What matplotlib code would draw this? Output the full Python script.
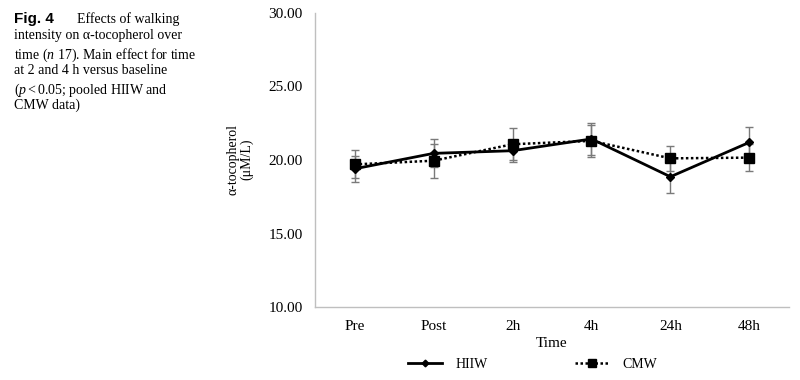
import numpy as np
import matplotlib
matplotlib.use("Agg")
import matplotlib.pyplot as plt

plt.rcParams['font.family'] = ['Liberation Serif', 'DejaVu Serif']
plt.rcParams['mathtext.fontset'] = 'custom'
plt.rcParams['mathtext.rm'] = 'Liberation Serif'
plt.rcParams['mathtext.it'] = 'Liberation Serif:italic'

# data
times = ["Pre", "Post", "2h", "4h", "24h", "48h"]
hiiw = [19.40, 20.45, 20.63, 21.43, 18.86, 21.20]
hiiw_err = [0.90, 0.95, 0.75, 1.10, 1.10, 1.07]
cmw = [19.70, 19.95, 21.07, 21.30, 20.11, 20.16]
cmw_err = [0.95, 1.15, 1.10, 1.10, 0.86, 0.91]
yticks = [10, 15, 20, 25, 30]

fig = plt.figure(figsize=(8, 3.8), dpi=100)
ax = fig.add_axes([0.394, 0.192, 0.592, 0.774])

x = np.arange(len(times))
ax.errorbar(x, hiiw, yerr=hiiw_err, fmt='none', ecolor='#7a7a7a',
            elinewidth=1, capsize=3, capthick=1, zorder=2)
ax.errorbar(x, cmw, yerr=cmw_err, fmt='none', ecolor='#7a7a7a',
            elinewidth=1, capsize=3, capthick=1, zorder=2)
l1, = ax.plot(x, hiiw, color='black', lw=2, marker='D', ms=4, zorder=3,
              label='HIIW')
l2, = ax.plot(x, cmw, color='black', lw=1.8, ls=(0, (1, 1)), marker='s',
              ms=7, zorder=3, label='CMW')

ax.set_xlim(-0.5, len(times) - 0.5)
ax.set_ylim(10, 30)
ax.set_xticks(x)
ax.set_xticklabels(times, fontsize=11)
ax.set_yticks(yticks)
ax.set_yticklabels(["%.2f" % v for v in yticks], fontsize=11)
ax.tick_params(length=0, pad=9)
for s in ['top', 'right']:
    ax.spines[s].set_visible(False)
for s in ['left', 'bottom']:
    ax.spines[s].set_color('#bfbfbf')
    ax.spines[s].set_linewidth(1)

ax.set_xlabel("Time", fontsize=11, labelpad=3)
fig.text(0.30, 0.58, "α-tocopherol\n(μM/L)", rotation=90, fontsize=10,
         ha='center', va='center', linespacing=1.1)

legend_handles = [l1, l2]
fig.legend(handles=legend_handles, loc='center', bbox_to_anchor=(0.666, 0.04),
           ncol=2, frameon=False, fontsize=10, handlelength=2.4,
           columnspacing=6.3, handletextpad=1.0, markerscale=0.85)

# caption
fig.text(0.018, 0.968, "Fig. 4", fontsize=11, fontweight='bold',
         family='Liberation Sans', va='top')
cap = ["Effects of walking",
       r"intensity on α-tocopherol over",
       r"time ($\mathit{n}$ 17). Main effect for time",
       "at 2 and 4 h versus baseline",
       r"($\mathit{p}<0.05$; pooled HIIW and",
       "CMW data)"]
fig.text(0.096, 0.968, cap[0], fontsize=10, va='top')
for i, line in enumerate(cap[1:]):
    fig.text(0.018, 0.968 - (i + 1) * 0.0455, line, fontsize=10, va='top')

fig.savefig("out.png", dpi=100)
